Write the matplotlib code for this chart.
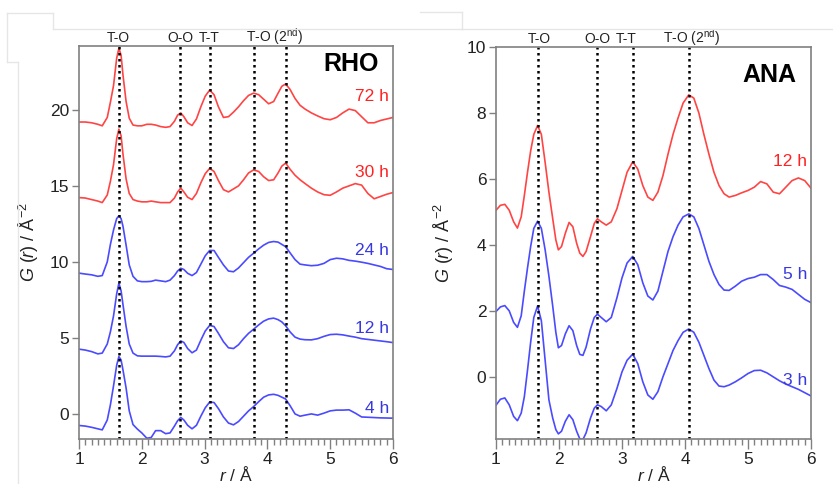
#!/usr/bin/env python3
"""
PDF G(r) curves of RHO and ANA zeolites, two panels
"""

import matplotlib.pyplot as plt
from matplotlib.lines import Line2D
from matplotlib.ticker import MultipleLocator
from matplotlib import transforms

plt.rcParams['font.family'] = ['Liberation Sans', 'DejaVu Sans']
plt.rcParams['mathtext.fontset'] = 'custom'
plt.rcParams['mathtext.rm'] = 'Liberation Sans'
plt.rcParams['mathtext.it'] = 'Liberation Sans:italic'

# ---- RHO panel data ----
rho_r = [1.0, 1.1, 1.2, 1.3, 1.37, 1.45, 1.5, 1.55, 1.6, 1.635, 1.67, 1.7, 1.75, 1.8,
         1.86, 1.93, 2.0, 2.08, 2.15, 2.22, 2.3, 2.38, 2.45, 2.52, 2.57, 2.62, 2.67,
         2.73, 2.8, 2.87, 2.94, 3.01, 3.08, 3.15, 3.22, 3.3, 3.38, 3.46, 3.54, 3.62,
         3.7, 3.78, 3.86, 3.94, 4.02, 4.1, 4.17, 4.23, 4.29, 4.36, 4.44, 4.52, 4.6,
         4.7, 4.8, 4.9, 5.0, 5.1, 5.2, 5.3, 5.4, 5.5, 5.6, 5.7, 5.8, 5.9, 6.0]
rho_72h = [19.2, 19.2, 19.15, 19.05, 18.95, 19.5, 20.5, 21.6, 23.4, 24.05, 23.6, 22.3,
           20.55, 19.45, 19.0, 18.95, 18.95, 19.05, 19.05, 19.0, 18.9, 18.85, 18.9,
           19.25, 19.65, 19.8, 19.55, 19.15, 18.97, 19.4, 20.2, 20.9, 21.3, 21.0, 20.2,
           19.5, 19.55, 19.85, 20.2, 20.6, 20.95, 21.1, 21.0, 20.7, 20.4, 20.55, 21.1,
           21.55, 21.7, 21.35, 20.75, 20.3, 20.05, 19.8, 19.6, 19.42, 19.35, 19.5, 19.8,
           20.05, 19.95, 19.55, 19.15, 19.15, 19.3, 19.4, 19.5]
rho_30h = [14.23, 14.2, 14.1, 14.0, 13.9, 14.4, 15.3, 16.4, 18.1, 18.73, 18.3, 17.1,
           15.45, 14.5, 14.1, 14.0, 13.95, 13.95, 14.0, 13.95, 13.9, 13.9, 13.9, 14.2,
           14.6, 14.85, 14.6, 14.25, 14.1, 14.5, 15.2, 15.8, 16.15, 15.95, 15.35, 14.75,
           14.6, 14.8, 15.0, 15.4, 15.85, 16.05, 15.95, 15.6, 15.35, 15.4, 15.85, 16.3,
           16.5, 16.1, 15.7, 15.4, 15.15, 14.85, 14.6, 14.42, 14.38, 14.6, 14.85, 15.0,
           15.15, 15.05, 14.5, 14.15, 14.3, 14.45, 14.56]
rho_24h = [9.26, 9.2, 9.15, 9.05, 9.1, 10.0, 11.15, 12.1, 12.85, 13.03, 12.85, 12.35,
           11.1, 9.8, 9.05, 8.75, 8.7, 8.7, 8.72, 8.8, 8.75, 8.7, 8.8, 9.1, 9.4, 9.58,
           9.5, 9.25, 9.1, 9.3, 9.85, 10.4, 10.75, 10.75, 10.3, 9.8, 9.4, 9.35, 9.6,
           9.95, 10.3, 10.57, 10.85, 11.1, 11.28, 11.34, 11.3, 11.15, 11.0, 10.6, 10.15,
           9.85, 9.8, 9.75, 9.78, 9.9, 10.15, 10.24, 10.2, 10.1, 10.05, 9.98, 9.9, 9.8,
           9.7, 9.55, 9.5]
rho_12h = [4.26, 4.2, 4.1, 3.95, 4.0, 4.6, 5.4, 6.45, 7.9, 8.6, 8.1, 7.2, 5.75, 4.6,
           4.0, 3.82, 3.8, 3.8, 3.8, 3.8, 3.78, 3.75, 3.8, 4.15, 4.55, 4.8, 4.7, 4.3,
           4.02, 4.2, 4.85, 5.45, 5.82, 5.75, 5.3, 4.75, 4.35, 4.3, 4.55, 4.95, 5.3,
           5.57, 5.85, 6.1, 6.25, 6.3, 6.2, 6.05, 5.8, 5.4, 5.05, 4.92, 4.88, 4.87,
           4.95, 5.1, 5.22, 5.24, 5.2, 5.12, 5.05, 4.95, 4.9, 4.85, 4.8, 4.75, 4.69]
rho_4h = [-0.76, -0.8, -0.88, -0.98, -1.05, -0.4, 0.6, 1.85, 3.2, 3.77, 3.55, 2.9, 1.7,
          0.2, -0.7, -1.0, -1.25, -1.6, -1.55, -1.1, -1.1, -1.3, -1.25, -0.8, -0.45,
          -0.23, -0.4, -0.75, -0.98, -0.75, -0.15, 0.4, 0.78, 0.75, 0.35, -0.2, -0.6,
          -0.72, -0.5, -0.15, 0.2, 0.48, 0.8, 1.1, 1.25, 1.29, 1.22, 1.1, 0.98, 0.55,
          0.0, -0.15, -0.08, 0.0, -0.08, 0.05, 0.2, 0.25, 0.25, 0.27, 0.05, -0.2,
          -0.22, -0.24, -0.26, -0.27, -0.28]
rho_series = [(rho_72h, '72 h', 'red', 20.6), (rho_30h, '30 h', 'red', 15.6),
              (rho_24h, '24 h', 'blue', 10.45), (rho_12h, '12 h', 'blue', 5.35),
              (rho_4h, '4 h', 'blue', 0.08)]
rho_marks = [1.63, 2.61, 3.08, 3.78, 4.29]

# ---- ANA panel data ----
ana_r = [1.0, 1.07, 1.14, 1.21, 1.28, 1.34, 1.4, 1.45, 1.5, 1.55, 1.6, 1.66, 1.72, 1.78,
         1.84, 1.9, 1.95, 1.99, 2.04, 2.1, 2.16, 2.22, 2.28, 2.33, 2.38, 2.43, 2.5,
         2.56, 2.61, 2.67, 2.75, 2.83, 2.92, 3.0, 3.08, 3.17, 3.25, 3.33, 3.41, 3.49,
         3.57, 3.65, 3.73, 3.81, 3.89, 3.97, 4.06, 4.14, 4.22, 4.3, 4.38, 4.46, 4.54,
         4.62, 4.7, 4.8, 4.9, 5.0, 5.1, 5.2, 5.3, 5.4, 5.5, 5.6, 5.7, 5.8, 5.9, 6.0]
ana_12h = [5.05, 5.2, 5.23, 5.05, 4.7, 4.51, 4.85, 5.5, 6.2, 6.85, 7.35, 7.62, 7.35,
           6.5, 5.6, 4.8, 4.15, 3.85, 3.95, 4.35, 4.68, 4.55, 4.05, 3.75, 3.65, 3.8,
           4.25, 4.65, 4.79, 4.7, 4.6, 4.7, 5.1, 5.65, 6.2, 6.52, 6.3, 5.8, 5.45, 5.35,
           5.6, 6.1, 6.75, 7.35, 7.85, 8.3, 8.55, 8.45, 8.0, 7.35, 6.75, 6.2, 5.8, 5.55,
           5.45, 5.5, 5.58, 5.65, 5.75, 5.92, 5.85, 5.6, 5.55, 5.75, 5.95, 6.03, 5.95,
           5.72]
ana_5h = [1.98, 2.12, 2.16, 2.0, 1.65, 1.5, 1.85, 2.6, 3.3, 3.95, 4.5, 4.72, 4.5, 3.85,
          3.05, 2.15, 1.35, 0.88, 0.95, 1.3, 1.55, 1.4, 0.95, 0.68, 0.65, 0.9, 1.45,
          1.8, 1.9, 1.8, 1.67, 1.8, 2.4, 3.0, 3.45, 3.65, 3.4, 2.85, 2.45, 2.33, 2.6,
          3.2, 3.8, 4.25, 4.6, 4.85, 4.94, 4.85, 4.5, 4.0, 3.5, 3.1, 2.8, 2.63, 2.62,
          2.75, 2.9, 2.98, 3.02, 3.1, 3.1, 2.95, 2.77, 2.72, 2.65, 2.5, 2.35, 2.25]
ana_3h = [-0.86, -0.68, -0.64, -0.85, -1.2, -1.33, -1.1, -0.6, 0.2, 1.05, 1.8, 2.15,
          1.7, 0.5, -0.7, -1.25, -1.6, -1.73, -1.65, -1.35, -1.15, -1.3, -1.65, -1.88,
          -1.9, -1.7, -1.25, -0.95, -0.85, -0.9, -1.03, -0.85, -0.35, 0.15, 0.5, 0.69,
          0.4, -0.15, -0.55, -0.68, -0.45, 0.0, 0.4, 0.8, 1.1, 1.35, 1.45, 1.35, 1.05,
          0.65, 0.25, -0.1, -0.28, -0.3, -0.25, -0.15, -0.03, 0.1, 0.19, 0.2, 0.12, 0.0,
          -0.12, -0.22, -0.3, -0.38, -0.48, -0.58]
ana_series = [(ana_12h, '12 h', 'red', 6.38), (ana_5h, '5 h', 'blue', 2.97),
              (ana_3h, '3 h', 'blue', -0.26)]
ana_marks = [1.67, 2.61, 3.18, 4.06]

peak_names = ['T-O', 'O-O', 'T-T', r'T-O (2$^{\mathrm{nd}}$)']
rho_name_x = [1.63, 2.61, 3.08, 4.12]
ana_name_x = [1.68, 2.61, 3.07, 4.11]

LINE = {'red': '#ff4444', 'blue': '#4a4aff'}
TEXT = {'red': '#ff2222', 'blue': '#3838e0'}
FRAME = '#808080'


def __panel(ax, r, series, marks, names_x, ylim, ystep, title, title_y):
    for vals, label, col, ly in series:
        ax.plot(r, vals, color=LINE[col], lw=1.2, solid_joinstyle='round')
        ax.text(5.94, ly, label, color=TEXT[col], fontsize=12.5,
                ha='right', va='baseline')
    for m in marks:
        ax.axvline(m, color='black', lw=1.8, linestyle=(0, (1, 1.4)))
    trans = transforms.blended_transform_factory(ax.transData, ax.transAxes)
    for name, x in zip(peak_names, names_x):
        ax.text(x, 1.01, name, transform=trans, fontsize=10, ha='center',
                va='baseline', color='#222222')
    ax.text(0.955, title_y, title, transform=ax.transAxes, fontsize=18,
            fontweight='bold', ha='right', va='baseline')
    ax.set_xlim(1, 6)
    ax.set_ylim(*ylim)
    ax.xaxis.set_major_locator(MultipleLocator(1))
    ax.xaxis.set_minor_locator(MultipleLocator(0.1))
    ax.yaxis.set_major_locator(MultipleLocator(ystep))
    for s in ax.spines.values():
        s.set_color(FRAME)
        s.set_linewidth(1.2)
    ax.tick_params(axis='x', which='major', length=7, width=1, color=FRAME,
                   labelsize=12.5, labelcolor='#222222', pad=2)
    ax.tick_params(axis='x', which='minor', length=4, width=1, color=FRAME)
    ax.tick_params(axis='y', which='major', length=5, width=1, color=FRAME,
                   labelsize=12.5, labelcolor='#222222', pad=2)
    ax.set_xlabel(r'$r$ / Å', fontsize=12.5, labelpad=-1, color='#222222')
    ax.set_ylabel(r'$G$ ($r$) / Å$^{-2}$', fontsize=13, color='#222222')


def main():
    fig = plt.figure(figsize=(8.33, 4.84), dpi=100)

    # faint frame left over from the page layout
    gray = '#e6e6e6'
    for xs, ys in [([7, 7], [13, 62]), ([7, 53], [13, 13]), ([53, 53], [13, 29]),
                   ([53, 462], [29, 29]), ([7, 18], [62, 62]), ([18, 18], [62, 484]),
                   ([420, 462], [12, 12]), ([462, 462], [12, 29]),
                   ([462, 833], [29, 29])]:
        fig.add_artist(Line2D([x / 833 for x in xs], [1 - y / 484 for y in ys],
                              color=gray, lw=1))

    ax1 = fig.add_axes([79 / 833, 45 / 484, 314 / 833, 393 / 484])
    ax2 = fig.add_axes([496 / 833, 45 / 484, 315 / 833, 392 / 484])

    __panel(ax1, rho_r, rho_series, rho_marks, rho_name_x, (-1.65, 24.2), 5,
            'RHO', 0.936)
    __panel(ax2, ana_r, ana_series, ana_marks, ana_name_x, (-1.885, 10), 2,
            'ANA', 0.911)
    ax1.yaxis.set_label_coords(-0.121, 0.5)
    ax2.yaxis.set_label_coords(-0.127, 0.5)

    fig.savefig('out.png', dpi=100)


if __name__ == '__main__':
    main()
